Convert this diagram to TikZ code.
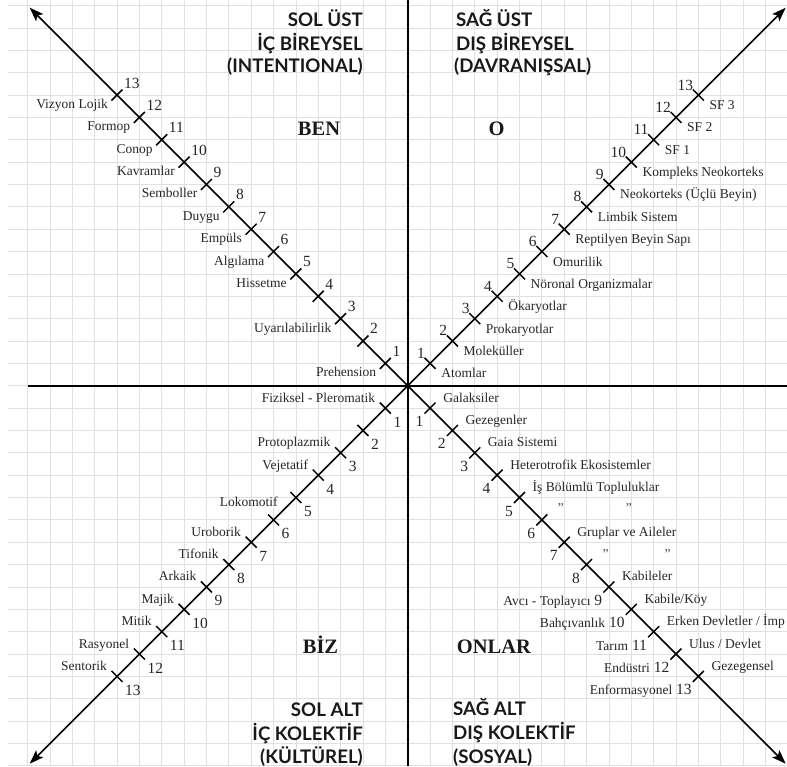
\documentclass[tikz,border=0pt]{standalone}
\usepackage{fontspec}
\setmainfont{Liberation Serif}
\newfontfamily\headsans{Lato}
\usetikzlibrary{arrows.meta}
\newcommand\labfont{\fontsize{13.5}{15}\selectfont}
\newcommand\numfont{\fontsize{15.5}{16}\selectfont}
\newcommand\headfont{\headsans\bfseries\fontsize{18.7}{20}\selectfont}
\newcommand\bigfont{\bfseries\fontsize{20.5}{22}\selectfont}

\begin{document}
\begin{tikzpicture}[x=1pt,y=-1pt,
  gridline/.style={draw=black!12, line width=0.8pt},
  axisline/.style={draw=black, line width=1.9pt},
  diagline/.style={draw=black, line width=1.6pt, -{Stealth[length=14pt,width=10pt,inset=3pt]}},
  tickmark/.style={draw=black, line width=1.5pt},
  num/.style={font=\numfont, text=black!85, inner sep=0pt},
  lab/.style={font=\labfont, text=black!85, inner sep=0pt},
  head/.style={font=\headfont, text=black!90, inner sep=0pt},
  big/.style={font=\bigfont, text=black!90, inner sep=0pt},
  ditto/.style={font=\labfont, text=black!70, inner sep=0pt}
]
\useasboundingbox (0,0) rectangle (787,766);
\clip (0,0) rectangle (787,766);

% background grid, aligned with the tick spacing
\foreach \k in {-17,...,17} {
  \draw[gridline] ({407.7+\k*22.36},0) -- ({407.7+\k*22.36},766);
  \draw[gridline] (8,{385.7+\k*22.36}) -- (787,{385.7+\k*22.36});
}

% axes
\coordinate (C) at (407.7,385.7);
\coordinate (vtop) at (407.7,0);
\coordinate (vbot) at (407.7,766);
\coordinate (hlft) at (28,385.7);
\coordinate (hrgt) at (787,385.7);
\draw[axisline] (vtop) -- (vbot);
\draw[axisline] (hlft) -- (hrgt);

\coordinate (tipUL) at (29.7,7.7);
\coordinate (tipUR) at (785.7,7.7);
\coordinate (tipLL) at (29.7,763.7);
\coordinate (tipLR) at (785.7,763.7);
\foreach \t in {tipUL,tipUR,tipLL,tipLR} \draw[diagline] (C) -- (\t);
\fill (C) circle (2.8);

% tick marks on the four diagonals
\foreach \q/\dx/\dy in {ul/-1/-1, ur/1/-1, ll/-1/1, lr/1/1} {
  \foreach \n in {1,...,13} {
    \coordinate (\q-\n) at ({407.7+\dx*\n*22.36},{385.7+\dy*\n*22.36});
    \coordinate (\q-\n-a) at ({407.7+\dx*\n*22.36+5.5*\dx},{385.7+\dy*\n*22.36-5.5*\dy});
    \coordinate (\q-\n-b) at ({407.7+\dx*\n*22.36-5.5*\dx},{385.7+\dy*\n*22.36+5.5*\dy});
    \draw[tickmark] (\q-\n-a) -- (\q-\n-b);
  }
}

% numbers
\foreach \n in {1,...,13} {
  \node[num, anchor=base west] (ul-num-\n) at ([shift={(7,-7)}]ul-\n) {\n};
  \node[num, anchor=base east] (ur-num-\n) at ([shift={(-5,-5)}]ur-\n) {\n};
  \node[num, anchor=base west] (ll-num-\n) at ([shift={(8,19)}]ll-\n) {\n};
}
\foreach \n in {1,...,8}
  \node[num, anchor=base east] (lr-num-\n) at ([shift={(-6.5,18.5)}]lr-\n) {\n};
\foreach \n/\t in {9/{Avcı - Toplayıcı}, 10/{Bahçıvanlık}, 11/{Tarım}, 12/{Endüstri}, 13/{Enformasyonel}}
  \node[num, anchor=base east] (lr-num-\n) at ([shift={(-6.5,18.5)}]lr-\n) {{\labfont\color{black!85}\t} \n};

% upper left: interior individual
\foreach \n/\t in {13/{Vizyon Lojik}, 12/{Formop}, 11/{Conop}, 10/{Kavramlar}, 9/{Semboller}, 8/{Duygu}, 7/{Empüls}, 6/{Algılama}, 5/{Hissetme}, 3/{Uyarılabilirlik}, 1/{Prehension}}
  \node[lab, anchor=base east] (ul-lab-\n) at ([shift={(-9,13.5)}]ul-\n) {\t};

% upper right: exterior individual
\foreach \n/\t in {1/{Atomlar}, 2/{Moleküller}, 3/{Prokaryotlar}, 4/{Ökaryotlar}, 5/{Nöronal Organizmalar}, 6/{Omurilik}, 7/{Reptilyen Beyin Sapı}, 8/{Limbik Sistem}, 9/{Neokorteks (Üçlü Beyin)}, 10/{Kompleks Neokorteks}, 11/{SF 1}, 12/{SF 2}, 13/{SF 3}}
  \node[lab, anchor=base west] (ur-lab-\n) at ([shift={(11,14.5)}]ur-\n) {\t};

% lower left: interior collective
\foreach \n/\t in {1/{Fiziksel - Pleromatik}, 3/{Protoplazmik}, 4/{Vejetatif}, 7/{Uroborik}, 8/{Tifonik}, 9/{Arkaik}, 10/{Majik}, 11/{Mitik}, 12/{Rasyonel}, 13/{Sentorik}}
  \node[lab, anchor=base east] (ll-lab-\n) at ([shift={(-10,-6)}]ll-\n) {\t};
\node[lab, anchor=base east] (ll-lab-5) at ([shift={(-18,9)}]ll-5) {Lokomotif};

% lower right: exterior collective
\foreach \n/\t in {1/{Galaksiler}, 2/{Gezegenler}, 3/{Gaia Sistemi}, 4/{Heterotrofik Ekosistemler}, 5/{İş Bölümlü Topluluklar}, 7/{Gruplar ve Aileler}, 9/{Kabileler}, 10/{Kabile/Köy}, 11/{Erken Devletler / İmp}, 12/{Ulus / Devlet}, 13/{Gezegensel}}
  \node[lab, anchor=base west] (lr-lab-\n) at ([shift={(13,-6)}]lr-\n) {\t};
\node[ditto] (lr-dit-6a) at ([shift={(19,-12)}]lr-6) {''};
\node[ditto] (lr-dit-6b) at ([shift={(87,-12)}]lr-6) {''};
\node[ditto] (lr-dit-8a) at ([shift={(19,-11)}]lr-8) {''};
\node[ditto] (lr-dit-8b) at ([shift={(81,-11)}]lr-8) {''};

% quadrant headings
\node[head, anchor=base east] (h-ul-1) at (363,26) {SOL ÜST};
\node[head, anchor=base east] (h-ul-2) at (363,50) {İÇ BİREYSEL};
\node[head, anchor=base east] (h-ul-3) at (363,72) {(INTENTIONAL)};
\node[head, anchor=base west] (h-ur-1) at (456,26.5) {SAĞ ÜST};
\node[head, anchor=base west] (h-ur-2) at (456,50) {DIŞ BİREYSEL};
\node[head, anchor=base west] (h-ur-3) at (454,72) {(DAVRANIŞSAL)};
\node[head, anchor=base east] (h-ll-1) at (363,716) {SOL ALT};
\node[head, anchor=base east] (h-ll-2) at (363,740) {İÇ KOLEKTİF};
\node[head, anchor=base east] (h-ll-3) at (363,763.5) {(KÜLTÜREL)};
\node[head, anchor=base west] (h-lr-1) at (453,715.5) {SAĞ ALT};
\node[head, anchor=base west] (h-lr-2) at (453,739.5) {DIŞ KOLEKTİF};
\node[head, anchor=base west] (h-lr-3) at (453,763) {(SOSYAL)};

\node[big, anchor=base] (ben) at (319,135) {BEN};
\node[big, anchor=base] (o) at (496.5,135) {O};
\node[big, anchor=base] (biz) at (320.5,653) {BİZ};
\node[big, anchor=base] (onlar) at (494,653) {ONLAR};
\end{tikzpicture}
\end{document}
